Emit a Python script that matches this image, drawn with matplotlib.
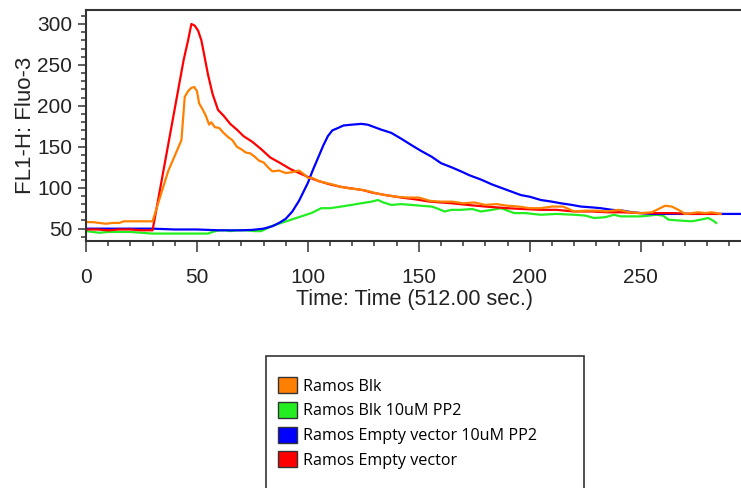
import numpy as np
import matplotlib
matplotlib.use("Agg")
import matplotlib.pyplot as plt
from matplotlib.patches import Patch, Rectangle
from matplotlib.ticker import MultipleLocator

plt.rcParams['font.family'] = ['Liberation Sans', 'DejaVu Sans']

#values (FL1-H: Fluo-3 vs time)
labels = ['Ramos Blk', 'Ramos Blk 10uM PP2', 'Ramos Empty vector 10uM PP2', 'Ramos Empty vector']
colors = ['#FF8000', '#22EE22', '#0000FF', '#FF0000']

#Ramos Blk
blk_t = [0, 3, 6, 9, 12, 15, 17, 20, 25, 30, 37, 43, 44.5, 46, 47.5, 48.8, 50, 51, 52.5, 54,
         55.5, 56.5, 58, 60, 62, 64, 66, 68, 70, 72, 74, 76, 78, 80, 82, 84, 87, 90, 93, 96,
         98, 100, 102, 105, 108, 111, 115, 119, 123, 127, 131, 135, 140, 145, 150, 155, 160,
         165, 170, 175, 180, 185, 190, 195, 200, 205, 210, 215, 220, 225, 230, 235, 240, 245,
         250, 255, 258, 261, 264, 267, 270, 273, 276, 279, 282, 286]
blk_v = [58, 58, 57, 56, 57, 57, 59, 59, 59, 59, 120, 158, 211, 218, 222, 223, 218, 203, 196, 188,
         177, 180, 174, 173, 167, 162, 158, 150, 147, 143, 142, 138, 133, 131, 125, 120, 121, 118, 119, 121,
         117, 112, 112, 108, 106, 104, 101, 99, 98, 96, 93, 91, 89, 88, 88, 84, 83,
         83, 81, 82, 79, 80, 78, 77, 75, 75, 77, 77, 71, 72, 72, 71, 73, 70,
         69, 70, 74, 78, 77, 73, 68, 69, 70, 69, 70, 68]

#Ramos Blk 10uM PP2
blk_pp2_t = [0, 3, 6, 10, 15, 20, 25, 30, 35, 40, 45, 50, 55, 57, 60, 63, 65, 68, 72, 76, 79,
             83.5, 88, 92.5, 97, 101.5, 106, 110, 115, 119.6, 124, 128.6, 131.6, 134, 137.6, 142,
             146.7, 151, 155.7, 158, 161.6, 164.7, 169, 174, 178, 183, 187, 190, 193, 198, 205,
             212, 220, 225, 229, 234, 238, 241, 244.5, 250, 254, 257, 260, 262.5, 267, 273, 277,
             280.5, 282.5, 284]
blk_pp2_v = [47, 46, 45, 46, 46, 46, 45, 44, 44, 44, 44, 44, 44, 46, 48, 48, 47, 48, 48, 47, 47,
             53, 57, 61, 65, 69, 75, 75, 77, 79, 81, 83, 85, 82, 79, 80,
             79, 78, 77, 75, 71, 73, 73, 74, 71, 73, 75, 72, 69, 69, 67,
             68, 67, 66, 63, 64, 67, 65, 65, 65, 66, 67, 66, 61, 60, 59, 61,
             63, 60, 57]

#Ramos Empty vector 10uM PP2
ev_pp2_t = [0, 10, 20, 30, 40, 50, 60, 70, 75, 80, 84, 87, 90, 93, 96, 98, 100, 102, 104.5, 107,
            109, 111, 113.6, 116, 119.6, 124, 127, 129, 133, 137.6, 142, 146.7, 151, 155.7, 160,
            164.7, 169, 173, 178, 183, 187, 192, 196, 200, 205, 210, 214, 219, 223, 228, 232,
            237, 242, 246, 250, 255, 296]
ev_pp2_v = [50, 50, 50, 50, 49, 49, 48, 48, 48.5, 50, 53, 57, 62, 71, 84, 95, 106, 120, 136, 152,
            163, 170, 173, 176, 177, 178, 177, 175, 171, 167, 160, 152, 145, 138, 130,
            125, 120, 115, 110, 104, 100, 95, 91, 89, 85, 83, 81, 79, 77, 76, 75,
            73, 72, 70, 69, 68, 68]

#Ramos Empty vector
ev_t = [0, 5, 10, 15, 20, 25, 30, 44, 46, 47.5, 49, 50.5, 52, 55, 57, 59.5, 62, 65, 68, 71, 75,
        79, 83, 87, 92, 96, 101, 105, 110, 115, 120, 125, 129, 135, 142, 148, 155, 160, 165,
        172, 180, 190, 197, 205, 212, 220, 228, 235, 242, 250, 258, 265, 272, 279, 286]
ev_v = [49, 49, 48, 49, 49, 48, 48, 256, 280, 300, 298, 292, 280, 238, 215, 195, 188, 178, 171, 163, 156,
        147, 137, 131, 123, 118, 112, 108, 104, 101, 99, 97, 94, 91, 88, 86, 83, 82, 81,
        79, 77, 75, 74, 73, 73, 71, 71, 70, 70, 69, 69, 69, 68, 68, 68]

x_ticks = [0, 50, 100, 150, 200, 250]
y_ticks = [50, 100, 150, 200, 250, 300]

fig = plt.figure(figsize=(7.41, 4.88), dpi=100)
ax = fig.add_axes([86/741, 1 - 240.7/488, 656.8/741, 230.7/488])

#draw order: green and blue under orange/red
ax.plot(blk_pp2_t, blk_pp2_v, color=colors[1], lw=1.6)
ax.plot(ev_pp2_t, ev_pp2_v, color=colors[2], lw=1.6)
ax.plot(ev_t, ev_v, color=colors[3], lw=1.6)
ax.plot(blk_t, blk_v, color=colors[0], lw=1.6)

ax.set_xlim(0, 296)
ax.set_ylim(35.3, 317.1)
ax.set_xticks(x_ticks)
ax.set_yticks(y_ticks)
ax.xaxis.set_minor_locator(MultipleLocator(10))
ax.yaxis.set_minor_locator(MultipleLocator(10))

spine_col = '#333333'
for side in ['left', 'top', 'bottom']:
    ax.spines[side].set_color(spine_col)
    ax.spines[side].set_linewidth(1.5)
ax.spines['right'].set_visible(False)

ax.tick_params(axis='both', which='both', direction='out', color=spine_col, width=1.1,
               labelsize=15, labelcolor='#222222')
ax.tick_params(axis='x', which='major', length=8, pad=12)
ax.tick_params(axis='x', which='minor', length=3.5)
ax.tick_params(axis='y', which='major', length=6, pad=4)
ax.tick_params(axis='y', which='minor', length=3.5)

ax.set_xlabel('Time: Time (512.00 sec.)', fontsize=15.5, labelpad=1, color='#222222')
ax.set_ylabel('FL1-H: Fluo-3', fontsize=16, labelpad=1, color='#222222')

#legend below the plot, in its own box
handles = [Patch(facecolor=c, edgecolor='#333333', linewidth=1) for c in colors]
fig.legend(handles, labels, loc='upper left', bbox_to_anchor=(278/741, 1 - 377/488),
           frameon=False, borderpad=0, borderaxespad=0, handlelength=1.15, handleheight=1.15,
           handletextpad=0.4, labelspacing=0.45, prop={'family': 'Open Sans', 'size': 11.65})
fig.patches.append(Rectangle((266/741, -0.01), (584 - 266)/741, 0.01 + (488 - 356)/488,
                             transform=fig.transFigure, fill=False, edgecolor='#333333', linewidth=1.2))

fig.savefig('out.png', dpi=100)
